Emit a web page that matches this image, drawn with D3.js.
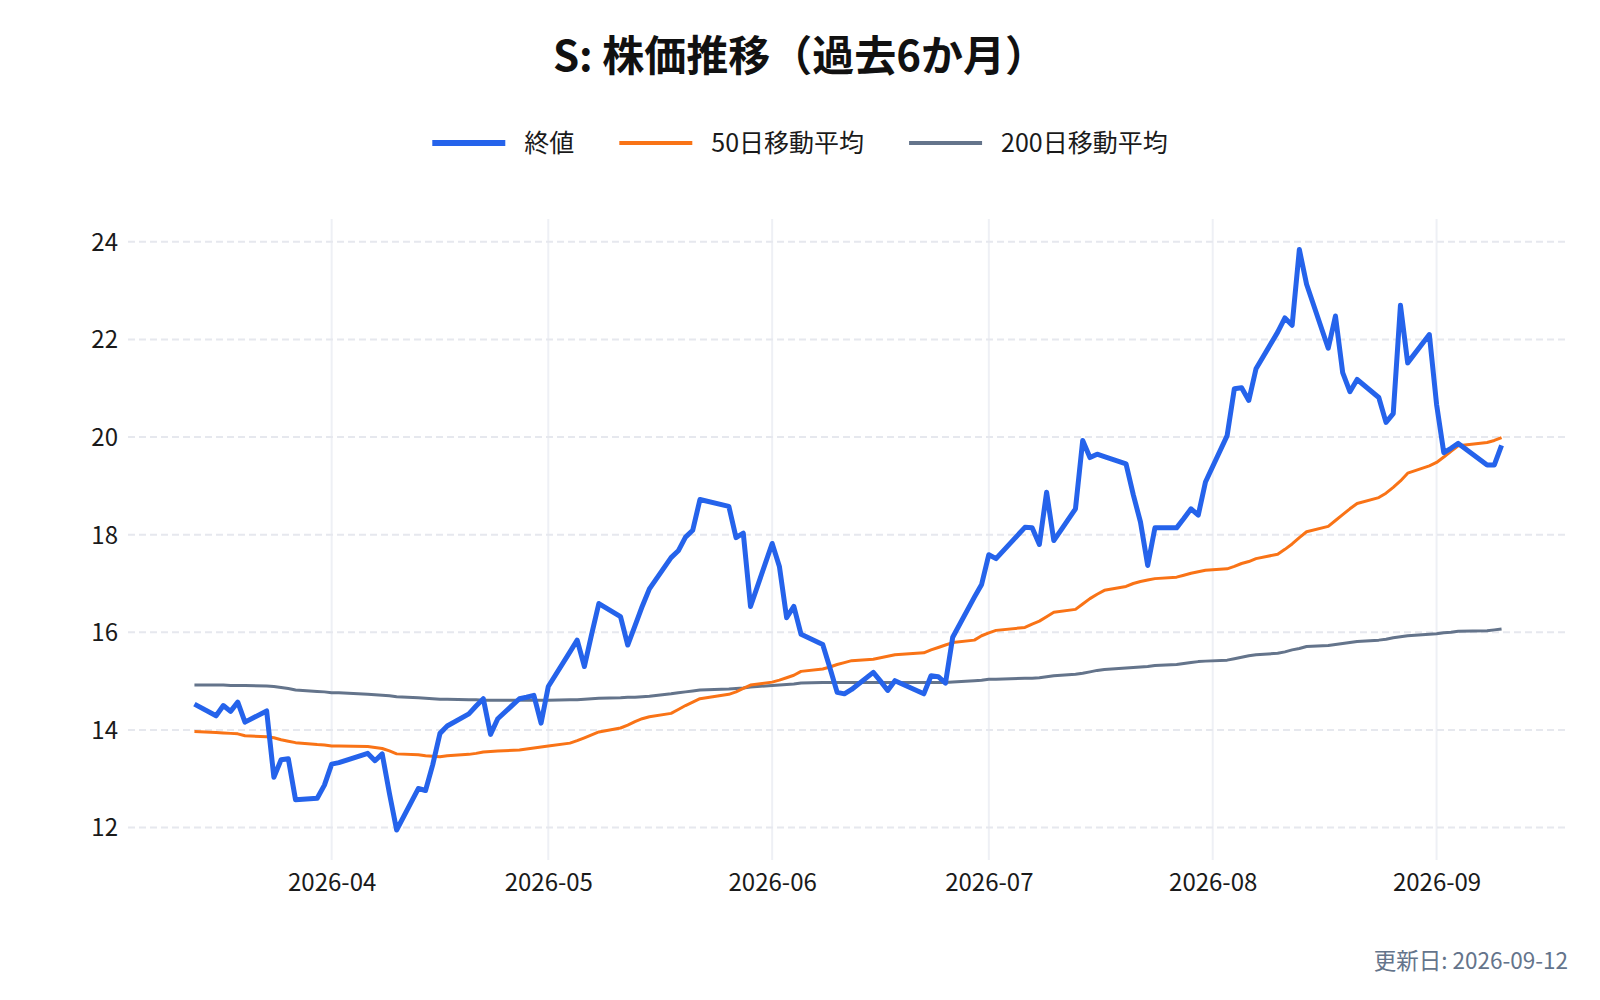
<!DOCTYPE html>
<html lang="ja">
<head>
<meta charset="utf-8">
<script src="https://cdn.jsdelivr.net/npm/d3@7"></script>
<style>
  html, body { margin: 0; padding: 0; background: #fff; }
  svg { display: block; font-family: "Noto Sans CJK JP", "Noto Sans", sans-serif; }
  .grid-y line { stroke: #e6e8ee; stroke-width: 2; stroke-dasharray: 7,4; }
  .grid-x line { stroke: #eef0f5; stroke-width: 2; }
  .tick-label { fill: #1a1a1a; font-size: 24px; }
</style>
</head>
<body>
<div id="chart"></div>
<script>
'use strict';

// trading days (US market holidays skipped)
const dates = [
  '2026-03-13', '2026-03-16', '2026-03-17', '2026-03-18', '2026-03-19', '2026-03-20',
  '2026-03-23', '2026-03-24', '2026-03-25', '2026-03-26', '2026-03-27', '2026-03-30', '2026-03-31',
  '2026-04-01', '2026-04-02', '2026-04-06', '2026-04-07', '2026-04-08', '2026-04-09', '2026-04-10',
  '2026-04-13', '2026-04-14', '2026-04-15', '2026-04-16', '2026-04-17', '2026-04-20', '2026-04-21',
  '2026-04-22', '2026-04-23', '2026-04-24', '2026-04-27', '2026-04-28', '2026-04-29', '2026-04-30',
  '2026-05-01', '2026-05-04', '2026-05-05', '2026-05-06', '2026-05-07', '2026-05-08', '2026-05-11',
  '2026-05-12', '2026-05-13', '2026-05-14', '2026-05-15', '2026-05-18', '2026-05-19', '2026-05-20',
  '2026-05-21', '2026-05-22', '2026-05-26', '2026-05-27', '2026-05-28', '2026-05-29',
  '2026-06-01', '2026-06-02', '2026-06-03', '2026-06-04', '2026-06-05', '2026-06-08', '2026-06-09',
  '2026-06-10', '2026-06-11', '2026-06-12', '2026-06-15', '2026-06-16', '2026-06-17', '2026-06-18',
  '2026-06-22', '2026-06-23', '2026-06-24', '2026-06-25', '2026-06-26', '2026-06-29', '2026-06-30',
  '2026-07-01', '2026-07-02', '2026-07-06', '2026-07-07', '2026-07-08', '2026-07-09', '2026-07-10',
  '2026-07-13', '2026-07-14', '2026-07-15', '2026-07-16', '2026-07-17', '2026-07-20', '2026-07-21',
  '2026-07-22', '2026-07-23', '2026-07-24', '2026-07-27', '2026-07-28', '2026-07-29', '2026-07-30',
  '2026-07-31', '2026-08-03', '2026-08-04', '2026-08-05', '2026-08-06', '2026-08-07', '2026-08-10',
  '2026-08-11', '2026-08-12', '2026-08-13', '2026-08-14', '2026-08-17', '2026-08-18', '2026-08-19',
  '2026-08-20', '2026-08-21', '2026-08-24', '2026-08-25', '2026-08-26', '2026-08-27', '2026-08-28',
  '2026-08-31', '2026-09-01', '2026-09-02', '2026-09-03', '2026-09-04', '2026-09-08', '2026-09-09',
  '2026-09-10'];

const closeValues = [
  14.53, 14.29, 14.50, 14.38, 14.57, 14.16,
  14.39, 13.03, 13.39, 13.41, 12.57, 12.60, 12.87,
  13.30, 13.33, 13.52, 13.37, 13.51, 12.70, 11.95,
  12.80, 12.76, 13.29, 13.93, 14.08, 14.33, 14.49,
  14.64, 13.91, 14.23, 14.64, 14.67, 14.71, 14.14,
  14.89, 15.60, 15.84, 15.30, 15.96, 16.59, 16.32,
  15.74, 16.13, 16.53, 16.89, 17.53, 17.67, 17.95,
  18.09, 18.72, 18.58, 17.94, 18.03, 16.53,
  17.82, 17.35, 16.30, 16.53, 15.96, 15.75, 15.27,
  14.77, 14.74, 14.83, 15.18, 15.00, 14.81, 15.01,
  14.74, 15.11, 15.09, 14.96, 15.90, 16.72, 16.98,
  17.59, 17.51, 18.15, 18.14, 17.80, 18.87, 17.88,
  18.53, 19.93, 19.58, 19.65, 19.60, 19.45, 18.82,
  18.26, 17.37, 18.14, 18.14, 18.33, 18.53, 18.40,
  19.08, 20.03, 20.99, 21.01, 20.75, 21.40, 22.15,
  22.44, 22.29, 23.84, 23.13, 21.82, 22.48, 21.32,
  20.93, 21.18, 20.81, 20.30, 20.48, 22.70, 21.52,
  22.10, 20.67, 19.68, 19.77, 19.87, 19.43, 19.43,
  19.83];

const ma50Values = [
  13.97, 13.95, 13.94, 13.93, 13.92, 13.88,
  13.86, 13.84, 13.80, 13.77, 13.74, 13.70, 13.69,
  13.67, 13.67, 13.66, 13.64, 13.62, 13.57, 13.51,
  13.49, 13.47, 13.46, 13.45, 13.47, 13.50, 13.52,
  13.55, 13.56, 13.57, 13.59, 13.61, 13.63, 13.65,
  13.67, 13.73, 13.78, 13.84, 13.90, 13.96, 14.04,
  14.10, 14.17, 14.23, 14.27, 14.34, 14.42, 14.50,
  14.57, 14.64, 14.73, 14.78, 14.85, 14.92,
  14.98, 15.02, 15.07, 15.12, 15.20, 15.25, 15.29,
  15.34, 15.38, 15.42, 15.45, 15.48, 15.51, 15.54,
  15.58, 15.64, 15.69, 15.74, 15.79, 15.84, 15.93,
  15.99, 16.04, 16.10, 16.17, 16.23, 16.32, 16.41,
  16.47, 16.58, 16.69, 16.78, 16.86, 16.94, 17.00,
  17.04, 17.07, 17.10, 17.13, 17.17, 17.21, 17.24,
  17.27, 17.30, 17.35, 17.41, 17.45, 17.51, 17.60,
  17.70, 17.81, 17.94, 18.06, 18.17, 18.29, 18.41,
  18.53, 18.64, 18.76, 18.85, 18.97, 19.10, 19.26,
  19.41, 19.48, 19.59, 19.71, 19.82, 19.89, 19.93,
  19.99];

const ma200Values = [
  14.92, 14.92, 14.92, 14.91, 14.91, 14.91,
  14.90, 14.89, 14.87, 14.85, 14.82, 14.79, 14.78,
  14.76, 14.76, 14.73, 14.72, 14.71, 14.70, 14.68,
  14.66, 14.65, 14.64, 14.63, 14.63, 14.62, 14.62,
  14.61, 14.61, 14.61, 14.61, 14.61, 14.61, 14.61,
  14.61, 14.62, 14.62, 14.63, 14.64, 14.65, 14.66,
  14.67, 14.67, 14.68, 14.69, 14.74, 14.76, 14.78,
  14.80, 14.82, 14.84, 14.85, 14.86, 14.88,
  14.91, 14.92, 14.93, 14.94, 14.96, 14.97, 14.97,
  14.97, 14.97, 14.97, 14.97, 14.97, 14.97, 14.97,
  14.97, 14.97, 14.97, 14.97, 14.98, 15.01, 15.02,
  15.04, 15.04, 15.06, 15.06, 15.07, 15.09, 15.11,
  15.14, 15.16, 15.19, 15.22, 15.24, 15.27, 15.28,
  15.29, 15.30, 15.32, 15.34, 15.36, 15.38, 15.40,
  15.41, 15.43, 15.46, 15.49, 15.52, 15.54, 15.57,
  15.60, 15.64, 15.67, 15.71, 15.73, 15.75, 15.77,
  15.79, 15.81, 15.84, 15.86, 15.89, 15.91, 15.93,
  15.96, 15.97, 15.99, 16.00, 16.02, 16.03, 16.05,
  16.07];

const seriesNames = ['終値', '50日移動平均', '200日移動平均'];
const seriesColours = ['#2563eb', '#f97316', '#64748b'];
const seriesWidths = [5, 3, 3];

const yTicks = [12, 14, 16, 18, 20, 22, 24];
const xTickMonths = ['2026-04', '2026-05', '2026-06', '2026-07', '2026-08', '2026-09'];

const titleText = 'S: 株価推移（過去6か月）';
const updatedText = '更新日: 2026-09-12';

const width = 1600;
const height = 1000;
const margin = {top: 219, right: 32, bottom: 140, left: 128};

const parseDay = d3.timeParse('%Y-%m-%d');
const parseMonth = d3.timeParse('%Y-%m');
const days = dates.map(parseDay);

const svg = d3.select('#chart').append('svg')
  .attr('width', width)
  .attr('height', height);

// x range padded the same amount on both sides of the data
const padDays = 9.2;
const [firstDay, lastDay] = d3.extent(days);
const xScale = d3.scaleTime()
  .domain([new Date(+firstDay - padDays * 864e5), new Date(+lastDay + padDays * 864e5)])
  .range([margin.left, width - margin.right]);

const yScale = d3.scaleLinear()
  .domain([11.336, 24.467])
  .range([height - margin.bottom, margin.top]);

// vertical month grid
const xTicks = xTickMonths.map(parseMonth);
svg.append('g')
  .attr('class', 'grid-x')
  .selectAll('line')
  .data(xTicks)
  .join('line')
  .attr('x1', d => xScale(d))
  .attr('x2', d => xScale(d))
  .attr('y1', margin.top)
  .attr('y2', height - margin.bottom);

// horizontal dashed grid
svg.append('g')
  .attr('class', 'grid-y')
  .selectAll('line')
  .data(yTicks)
  .join('line')
  .attr('x1', margin.left)
  .attr('x2', width - margin.right)
  .attr('y1', d => yScale(d))
  .attr('y2', d => yScale(d));

// axes (labels only, no domain or tick marks)
const xAxis = d3.axisBottom(xScale)
  .tickValues(xTicks)
  .tickFormat(d3.timeFormat('%Y-%m'))
  .tickSize(0)
  .tickPadding(0);

const xAxisG = svg.append('g')
  .attr('transform', 'translate(0,' + (height - margin.bottom) + ')')
  .call(xAxis)
  .attr('font-family', null)
  .attr('font-size', null);
xAxisG.select('.domain').remove();
xAxisG.selectAll('text')
  .attr('class', 'tick-label')
  .attr('y', 23)
  .attr('dy', '0.35em');

const yAxis = d3.axisLeft(yScale)
  .tickValues(yTicks)
  .tickSize(0)
  .tickPadding(0);

const yAxisG = svg.append('g')
  .attr('transform', 'translate(' + (margin.left - 10) + ',0)')
  .call(yAxis)
  .attr('font-family', null)
  .attr('font-size', null);
yAxisG.select('.domain').remove();
yAxisG.selectAll('text')
  .attr('class', 'tick-label')
  .attr('dy', '0.35em');

// lines: draw the averages under the close
const seriesValues = [closeValues, ma50Values, ma200Values];
const line = d3.line()
  .x(d => xScale(d[0]))
  .y(d => yScale(d[1]));

[2, 1, 0].forEach(i => {
  svg.append('path')
    .datum(days.map((d, j) => [d, seriesValues[i][j]]))
    .attr('fill', 'none')
    .attr('stroke', seriesColours[i])
    .attr('stroke-width', seriesWidths[i])
    .attr('stroke-linejoin', 'round')
    .attr('d', line);
});

// title
svg.append('text')
  .attr('x', width / 2)
  .attr('y', 56)
  .attr('dy', '0.35em')
  .style('text-anchor', 'middle')
  .style('font-size', '42px')
  .style('font-weight', 'bold')
  .style('fill', '#111')
  .text(titleText);

// legend, centred above the plot
const legendY = 143;
const swatchLength = 73;
const swatchGap = 19;
const itemGap = 45;
const legend = svg.append('g');
const items = seriesNames.map((name, i) => {
  const g = legend.append('g');
  g.append('line')
    .attr('x1', 0)
    .attr('x2', swatchLength)
    .attr('y1', legendY)
    .attr('y2', legendY)
    .attr('stroke', seriesColours[i])
    .attr('stroke-width', seriesWidths[i] + 1);
  const t = g.append('text')
    .attr('x', swatchLength + swatchGap)
    .attr('y', legendY)
    .attr('dy', '0.35em')
    .style('font-size', '25px')
    .style('fill', '#1a1a1a')
    .text(name);
  return {g, w: swatchLength + swatchGap + t.node().getComputedTextLength()};
});
const legendWidth = d3.sum(items, d => d.w) + itemGap * (items.length - 1);
let cursor = width / 2 - legendWidth / 2;
items.forEach(item => {
  item.g.attr('transform', 'translate(' + cursor + ',0)');
  cursor += item.w + itemGap;
});

// update date note
svg.append('text')
  .attr('x', width - margin.right)
  .attr('y', 961)
  .attr('dy', '0.35em')
  .style('text-anchor', 'end')
  .style('font-size', '22.5px')
  .style('fill', '#64748b')
  .text(updatedText);
</script>
</body>
</html>
